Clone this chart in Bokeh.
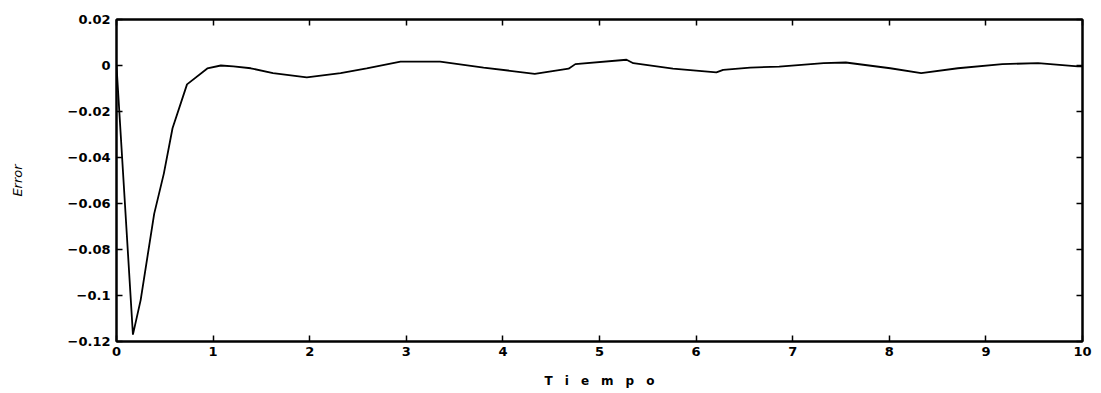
from bokeh.plotting import figure
from bokeh.models import Range1d, LinearAxis, FixedTicker, CustomJSTickFormatter
from bokeh.embed import file_html
from bokeh.resources import INLINE

# data
tiempo = [0.0, 0.17, 0.25, 0.39, 0.49, 0.58, 0.73, 0.94, 1.08, 1.21, 1.39, 1.62,
          1.97, 2.32, 2.59, 2.94, 3.35, 3.80, 4.33, 4.68, 4.75, 5.28, 5.35, 5.76,
          6.21, 6.28, 6.56, 6.86, 7.32, 7.55, 8.01, 8.33, 8.71, 9.17, 9.54, 9.95, 10.0]
error = [0.0, -0.117, -0.102, -0.0645, -0.047, -0.0273, -0.0082, -0.0013, 0.0,
         -0.0004, -0.0012, -0.0033, -0.0052, -0.0033, -0.0012, 0.0017, 0.0017,
         -0.0009, -0.0036, -0.0014, 0.0006, 0.0025, 0.001, -0.0014, -0.003,
         -0.0019, -0.0009, -0.0005, 0.001, 0.0013, -0.0012, -0.0033, -0.0012,
         0.0006, 0.001, -0.0004, -0.0004]

x_ticks = [0, 1, 2, 3, 4, 5, 6, 7, 8, 9, 10]
y_ticks = [-0.12, -0.1, -0.08, -0.06, -0.04, -0.02, 0, 0.02]
y_labels = ["\u22120.12", "\u22120.1", "\u22120.08", "\u22120.06", "\u22120.04",
            "\u22120.02", "0", "0.02"]
x_title = "T\u2003i\u2003e\u2003m\u2003p\u2003o"
y_title = "Error"

p = figure(width=1097, height=390, output_backend="svg", toolbar_location=None,
           x_range=Range1d(0, 10), y_range=Range1d(-0.12, 0.02),
           x_axis_location=None, y_axis_location=None,
           min_border_left=116, min_border_right=15, min_border_top=19,
           min_border_bottom=47)
p.grid.visible = False
p.outline_line_color = "black"
p.outline_line_width = 2
p.background_fill_color = "white"
p.border_fill_color = "white"

font = "DejaVu Sans"

def style(ax, labels=True):
    ax.axis_line_width = 2
    ax.axis_line_color = "black"
    ax.major_tick_in = 6
    ax.major_tick_out = 0
    ax.major_tick_line_width = 1.5
    ax.minor_tick_line_color = None
    ax.major_label_text_font = font
    ax.major_label_text_font_style = "bold"
    ax.major_label_text_font_size = "13px"
    ax.major_label_text_color = "black"
    if not labels:
        ax.formatter = CustomJSTickFormatter(code="return ''")

bottom = LinearAxis(ticker=FixedTicker(ticks=x_ticks), axis_label=x_title)
style(bottom)
bottom.major_label_standoff = 5
bottom.axis_label_standoff = 15
bottom.axis_label_text_font = font
bottom.axis_label_text_font_style = "bold"
bottom.axis_label_text_font_size = "12px"
bottom.axis_label_text_color = "black"
p.add_layout(bottom, "below")

left = LinearAxis(ticker=FixedTicker(ticks=y_ticks), axis_label=y_title)
style(left)
left.major_label_overrides = {t: l for t, l in zip(y_ticks, y_labels)}
left.major_label_standoff = 6
left.axis_label_standoff = 40
left.axis_label_text_font = font
left.axis_label_text_font_style = "italic"
left.axis_label_text_font_size = "13px"
left.axis_label_text_color = "black"
p.add_layout(left, "left")

top = LinearAxis(ticker=FixedTicker(ticks=x_ticks))
style(top, labels=False)
p.add_layout(top, "above")

right = LinearAxis(ticker=FixedTicker(ticks=y_ticks))
style(right, labels=False)
p.add_layout(right, "right")

p.line(tiempo, error, line_color="black", line_width=1.8)

open("out.html", "w").write(file_html(p, INLINE))
